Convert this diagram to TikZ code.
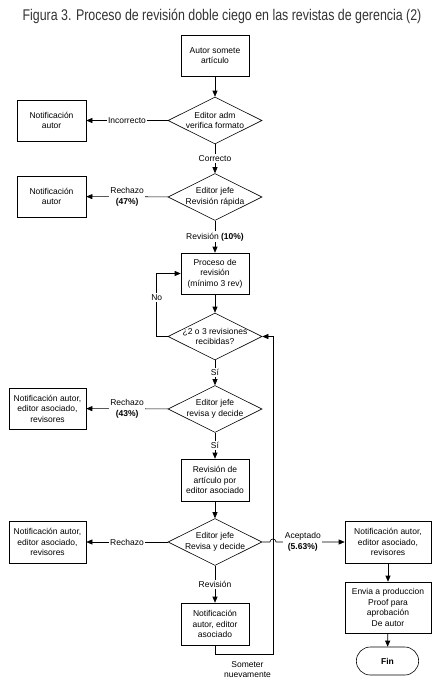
\documentclass[tikz,border=0pt]{standalone}
\usepackage{fontspec}
\setmainfont{Liberation Sans}
\usepackage{tikz}
\usetikzlibrary{positioning,shapes.geometric,shapes.misc,arrows.meta}
\newcommand{\flowfont}{\fontsize{8.5}{10.5}\selectfont}
\tikzset{
  figtitle/.style = {font=\fontsize{15.5}{15.5}\selectfont, text=black!80, inner sep=0pt},
  procbox/.style  = {draw=black, fill=white, line width=0.6pt, minimum width=68pt, minimum height=41pt, inner sep=1pt, align=center, font=\flowfont},
  notebox/.style  = {procbox, minimum width=77pt},
  decbox/.style   = {diamond, draw=black, minimum width=94pt, minimum height=47pt, inner sep=0pt, line width=0.6pt},
  dectxt/.style   = {align=center, font=\flowfont, inner sep=0pt},
  finbox/.style   = {rounded rectangle, draw=black, minimum width=69pt, minimum height=28pt, font=\flowfont\bfseries, line width=0.6pt},
  flowlbl/.style  = {fill=white, align=center, font=\flowfont, inner sep=1.5pt},
  arrowto/.style  = {-{Triangle[length=6pt,width=5pt]}, line width=0.6pt},
  link/.style     = {line width=0.6pt},
}

\begin{document}
\begin{tikzpicture}[x=1pt,y=-1pt]
  \useasboundingbox (0,0) rectangle (442,689);
  \node[figtitle] (ttl) at (222,16) {\scalebox{0.8}[1]{Figura 3. Proceso de revisión doble ciego en las revistas de gerencia (2)}};

  % columna central
  \node[procbox] (autor) at (215,55.5) {Autor somete\\artículo};
  \node[decbox] (formato) at (215,120.5) {};
  \node[dectxt] (formatot) at (formato) {Editor adm\\verifica formato};
  \node[decbox] (rapida) at (215,197) {};
  \node[dectxt] (rapidat) at (rapida) {Editor jefe\\Revisión rápida};
  \node[procbox] (proceso) at (215,273.5) {Proceso de\\revisión\\(mínimo 3 rev)};
  \node[decbox] (cuantas) at (215,336.5) {};
  \node[dectxt] (cuantast) at (cuantas) {¿2 o 3 revisiones\\recibidas?};
  \node[decbox] (decide) at (215,409) {};
  \node[dectxt] (decidet) at (decide) {Editor jefe\\revisa y decide};
  \node[procbox, minimum height=42pt] (asociado) at (215,480) {Revisión de\\artículo por\\editor asociado};
  \node[decbox] (final) at (215,542) {};
  \node[dectxt] (finalt) at (final) {Editor jefe\\Revisa y decide};
  \node[procbox, minimum height=42pt] (nueva) at (215,624) {Notificación\\autor, editor\\asociado};

  % columna izquierda
  \node[procbox, minimum width=69pt] (nota) at (51.5,120.5) {Notificación\\autor};
  \node[procbox, minimum width=69pt] (notb) at (51.5,196.5) {Notificación\\autor};
  \node[notebox] (notc) at (47.5,408.5) {Notificación autor,\\editor asociado,\\revisores};
  \node[notebox, minimum height=42pt] (notd) at (47.5,542) {Notificación autor,\\editor asociado,\\revisores};

  % columna derecha
  \node[procbox, minimum width=86pt, minimum height=42pt] (acept) at (388,542) {Notificación autor,\\editor asociado,\\revisores};
  \node[procbox, minimum width=86pt, minimum height=51pt] (prod) at (388,607.5) {Envia a produccion\\Proof para\\aprobación\\De autor};
  \node[finbox] (fin) at (387.5,661) {Fin};

  \draw[arrowto] (autor) -- (formato);
  \draw[arrowto] (formato) -- node[flowlbl] {Incorrecto} (nota);
  \draw[arrowto] (formato) -- node[flowlbl] {Correcto} (rapida);
  \draw[arrowto] (rapida) -- node[flowlbl] {Rechazo\\\textbf{(47\%)}} (notb);
  \draw[arrowto] (rapida) -- node[flowlbl] {Revisión \textbf{(10\%)}} (proceso);
  \draw[arrowto] (proceso) -- (cuantas);
  \draw[arrowto] (cuantas.west) -- ++(-11,0) |- node[flowlbl, pos=0.31] {No} (proceso.west);
  \draw[arrowto] (cuantas) -- node[flowlbl] {Sí} (decide);
  \draw[arrowto] (decide) -- node[flowlbl] {Rechazo\\\textbf{(43\%)}} (notc);
  \draw[arrowto] (decide) -- node[flowlbl] {Sí} (asociado);
  \draw[arrowto] (asociado) -- (final);
  \draw[arrowto] (final) -- node[flowlbl] {Rechazo} (notd);
  \draw[arrowto] (final) -- node[flowlbl] {Revisión} (nueva);

  % vuelta a revisores
  \coordinate (back) at (273,654);
  \draw[arrowto] (nueva.south) |- node[pos=0.78, below=7pt, align=center, font=\flowfont, inner sep=0pt] (someter) {Someter\\nuevamente} (back) |- (cuantas.east);

  \coordinate (hopa) at (270,542);
  \coordinate (hopb) at (276,542);
  \draw[arrowto] (final.east) -- (hopa) .. controls +(0,-4) and +(0,-4) .. (hopb) -- node[flowlbl, pos=0.39] {Aceptado\\\textbf{(5.63\%)}} (acept.west);
  \draw[arrowto] (acept) -- (prod);
  \draw[arrowto] (prod) -- (fin);
\end{tikzpicture}
\end{document}
